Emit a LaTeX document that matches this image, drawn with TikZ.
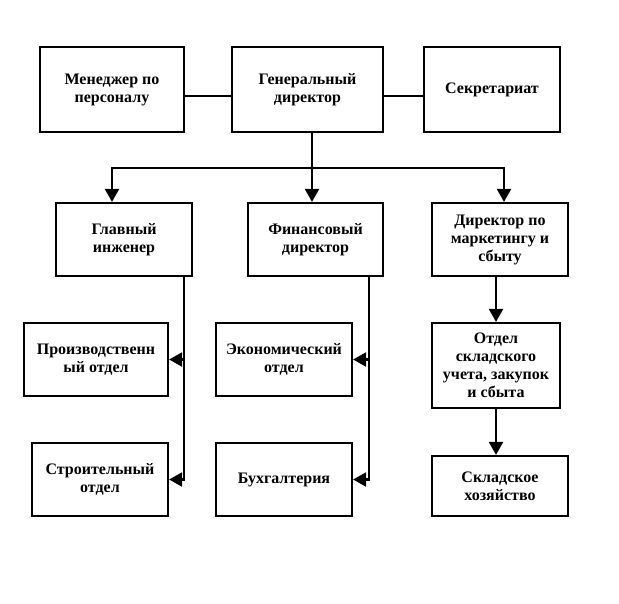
\documentclass[tikz,border=0pt]{standalone}
\usepackage{fontspec}
\setmainfont{Liberation Serif}
\usetikzlibrary{arrows.meta}
\begin{document}
\begin{tikzpicture}[x=1pt,y=-1pt,line width=2.2pt,
  box/.style={draw,line width=2.2pt,align=center,inner sep=0pt,
    font=\bfseries\fontsize{16}{18}\selectfont},
  arr/.style={-{Triangle[length=13pt,width=14pt]}}]
\useasboundingbox[fill=white] (0,0) rectangle (619,603);
\node[box,minimum width=144pt,minimum height=85pt] (m) at (112,89.5) {Менеджер по\\персоналу};
\node[box,minimum width=151pt,minimum height=85pt] (g) at (307.5,89.5) {Генеральный\\директор};
\node[box,minimum width=136pt,minimum height=85pt] (s) at (492,89.5) {Секретариат};
\node[box,minimum width=136pt,minimum height=73pt] (gi) at (124,239.5) {Главный\\инженер};
\node[box,minimum width=135pt,minimum height=73pt] (fd) at (315.5,239.5) {Финансовый\\директор};
\node[box,minimum width=136pt,minimum height=73pt] (md) at (500,239.5) {Директор по\\маркетингу и\\сбыту};
\node[box,minimum width=144pt,minimum height=73pt] (pr) at (96,359.5) {Производственн\\ый отдел};
\node[box,minimum width=136pt,minimum height=73pt] (st) at (100,479.5) {Строительный\\отдел};
\node[box,minimum width=136pt,minimum height=73pt] (ek) at (284,359.5) {Экономический\\отдел};
\node[box,minimum width=136pt,minimum height=73pt] (bu) at (284,479.5) {Бухгалтерия};
\node[box,minimum width=128pt,minimum height=85pt] (ot) at (496,365.5) {Отдел\\складского\\учета, закупок\\и сбыта};
\node[box,minimum width=136pt,minimum height=60pt] (sk) at (500,486) {Складское\\хозяйство};
\draw ([yshift=-6.5pt]m.east) -- ([yshift=-6.5pt]g.west);
\draw ([yshift=-6.5pt]g.east) -- ([yshift=-6.5pt]s.west);
\coordinate (b) at (312,168);
\draw[arr] ([xshift=4.5pt]g.south) -- ([xshift=-3.5pt]fd.north);
\draw[arr] (b) -| ([xshift=-12pt]gi.north);
\draw[arr] (b) -| ([xshift=4pt]md.north);
\draw[arr] ([xshift=-9pt]gi.south east) |- (pr.east);
\draw[arr] ([xshift=-9pt]gi.south east) |- (st.east);
\draw[arr] ([xshift=-15pt]fd.south east) |- (ek.east);
\draw[arr] ([xshift=-15pt]fd.south east) |- (bu.east);
\draw[arr] ([xshift=-4pt]md.south) -- (ot.north);
\draw[arr] (ot.south) -- ([xshift=-4pt]sk.north);
\end{tikzpicture}
\end{document}
